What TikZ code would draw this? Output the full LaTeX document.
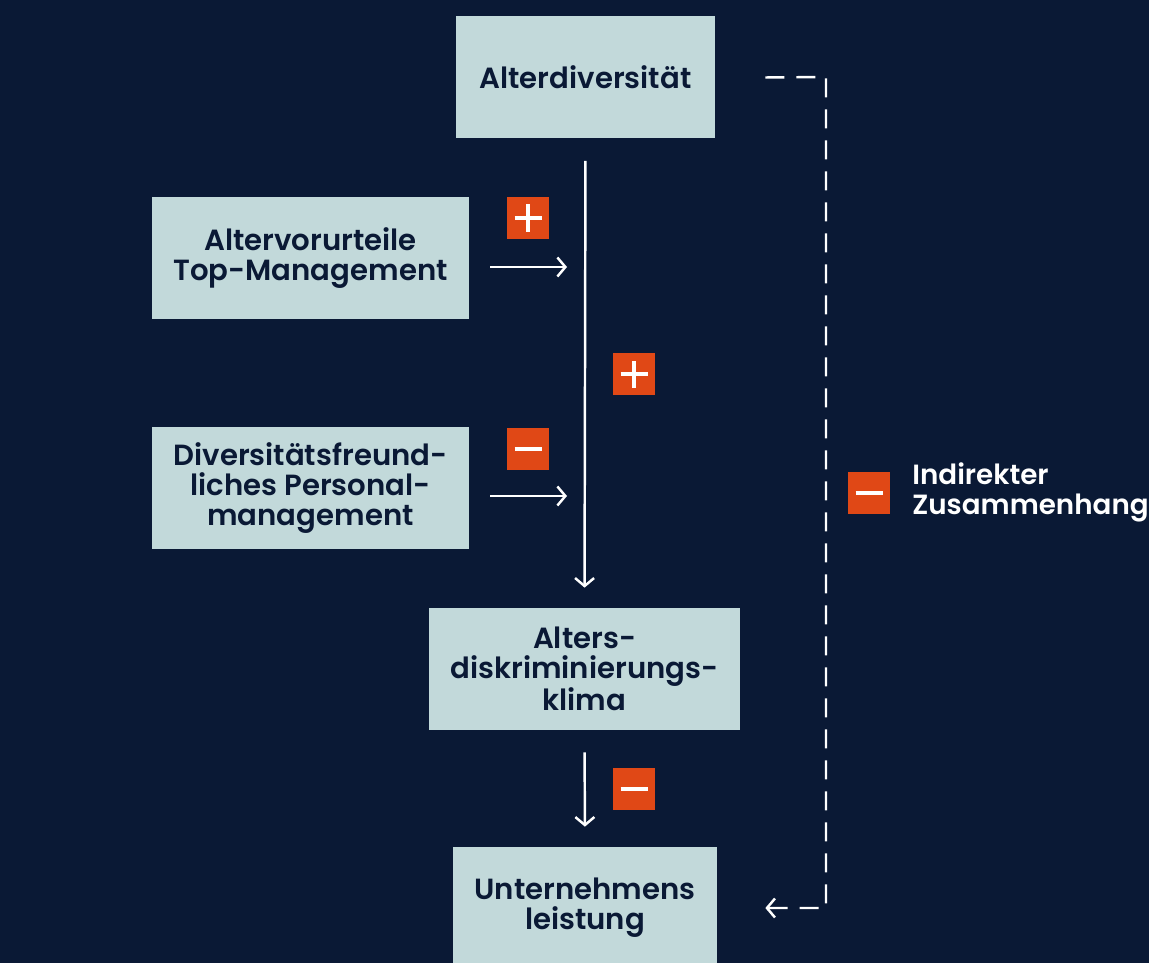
\documentclass[tikz,border=0pt]{standalone}
\usepackage{fontspec}
\setmainfont{Poppins}[UprightFont=* SemiBold]
\usetikzlibrary{calc}
\usetikzlibrary{arrows.meta}
\definecolor{navy}{HTML}{0A1935}
\definecolor{boxcol}{HTML}{C2D9DA}
\definecolor{signcol}{HTML}{E04816}
\tikzset{>={Straight Barb[length=1.6mm,width=3.8mm,line width=1.4pt]}}
\tikzset{box/.style={fill=boxcol,text=navy,align=center,inner sep=0pt,minimum height=2.44cm,font=\fontsize{16.6}{17}\selectfont}}
\tikzset{sign/.style={fill=signcol,minimum size=0.84cm,inner sep=0pt}}
\tikzset{plus/.style={sign,path picture={
  \draw[white,line width=1.9pt] ($(path picture bounding box.center)+(-0.27,0)$) -- ($(path picture bounding box.center)+(0.27,0)$);
  \draw[white,line width=1.9pt] ($(path picture bounding box.center)+(0,-0.27)$) -- ($(path picture bounding box.center)+(0,0.27)$);}}}
\tikzset{minus/.style={sign,path picture={
  \draw[white,line width=1.9pt] ($(path picture bounding box.center)+(-0.27,0)$) -- ($(path picture bounding box.center)+(0.27,0)$);}}}
\tikzset{flow/.style={white,line width=1.4pt}}
\tikzset{indirect/.style={white,line width=1.4pt,dash pattern=on 0.38cm off 0.24cm}}

\begin{document}
\begin{tikzpicture}
    \fill[navy] (0,0) rectangle (22.98,-19.26);
    \useasboundingbox (0,0) rectangle (22.98,-19.26);

    \node[box,minimum width=5.18cm] (alter) at (11.71,-1.55) {Alterdiversität};
    \node[box,minimum width=6.34cm] (vorurteile) at (6.21,-5.16) {Altervorurteile\\Top-Management};
    \node[box,minimum width=6.34cm] (personal) at (6.21,-9.76) {Diversitätsfreund-\\liches Personal-\\management};
    \node[box,minimum width=6.22cm] (klima) at (11.69,-13.38) {Alters-\\diskriminierungs-\\klima};
    \node[box,minimum width=5.28cm] (leistung) at (11.70,-18.16) {Unternehmens\\leistung};

    \coordinate (j1) at (11.72,-5.34);
    \coordinate (j2) at (11.72,-9.92);
    \coordinate (turn) at (16.52,-1.54);

    \node[plus] (s1) at (10.56,-4.36) {};
    \node[plus] (s2) at (12.68,-7.48) {};
    \node[minus] (s3) at (10.56,-8.98) {};
    \node[minus] (s4) at (12.68,-15.78) {};
    \node[minus] (s5) at (17.38,-9.86) {};
    \node[anchor=west,align=left,text=white,inner sep=0pt,font=\fontsize{15.8}{17}\selectfont] (label) at (18.24,-9.84) {Indirekter\\Zusammenhang};

    \draw[flow,->,shorten <=0.44cm,shorten >=0.4cm] (alter.south) -- (klima.north);
    \draw[flow,->,shorten <=0.42cm,shorten >=0.38cm] (vorurteile.east |- j1) -- (j1);
    \draw[flow,->,shorten <=0.42cm,shorten >=0.38cm] (personal.east |- j2) -- (j2);
    \draw[flow,->,shorten <=0.44cm,shorten >=0.4cm] (klima.south) -- (leistung.north);
    \draw[indirect,->] ([xshift=1cm]alter.east) -- (turn) |- ([xshift=0.96cm]leistung.east);
\end{tikzpicture}
\end{document}
